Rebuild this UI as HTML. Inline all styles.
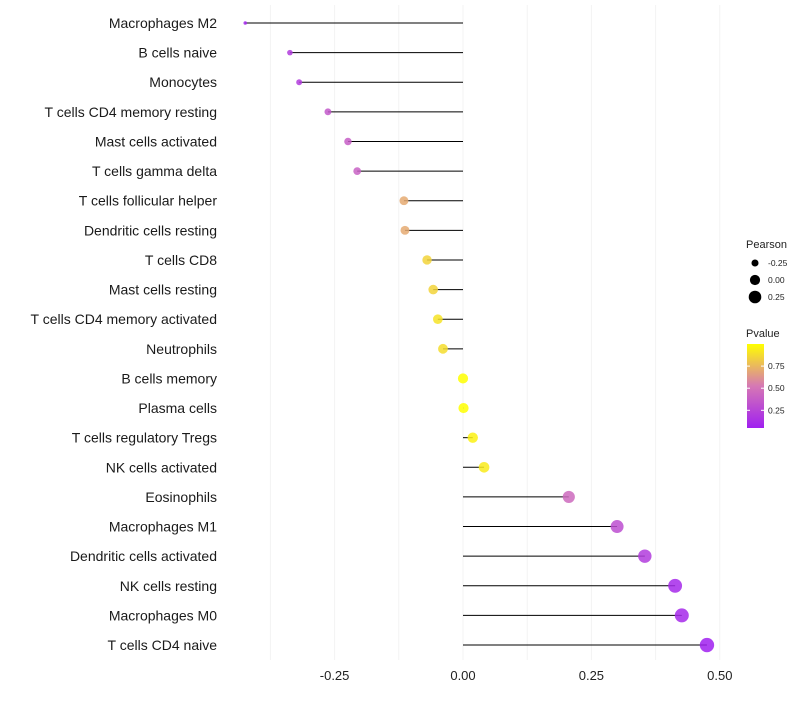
<!DOCTYPE html>
<html><head><meta charset="utf-8"><style>
body{margin:0;background:#fff;}
svg{font-family:"Liberation Sans",sans-serif;}
</style></head><body>
<svg id="c" width="800" height="700"></svg>
<script>
const cells=["Macrophages M2","B cells naive","Monocytes","T cells CD4 memory resting","Mast cells activated","T cells gamma delta","T cells follicular helper","Dendritic cells resting","T cells CD8","Mast cells resting","T cells CD4 memory activated","Neutrophils","B cells memory","Plasma cells","T cells regulatory  Tregs ","NK cells activated","Eosinophils","Macrophages M1","Dendritic cells activated","NK cells resting","Macrophages M0","T cells CD4 naive"];
const pearson=[-0.424,-0.337,-0.319,-0.263,-0.224,-0.206,-0.115,-0.113,-0.070,-0.058,-0.049,-0.039,0.0,0.001,0.019,0.041,0.206,0.300,0.354,0.413,0.426,0.475];
const pvalue=[0.08,0.2,0.2,0.35,0.38,0.4,0.7,0.7,0.85,0.85,0.9,0.88,1.0,1.0,0.95,0.93,0.45,0.3,0.2,0.1,0.1,0.05];
const xTicks=[-0.25,0,0.25,0.5];
const xTickLabels=["-0.25","0.00","0.25","0.50"];
const sizeLegend=[-0.25,0,0.25];
const sizeLegendLabels=["-0.25","0.00","0.25"];
const colorLegend=[0.25,0.5,0.75];
const colorLegendLabels=["0.25","0.50","0.75"];

const NS="http://www.w3.org/2000/svg";
const svg=document.getElementById('c');
function mk(t,a,p){const e=document.createElementNS(NS,t);for(const k in a)e.setAttribute(k,a[k]);(p||svg).appendChild(e);return e;}
const x=v=>463+v*513.6;
const y=i=>23+i*29.62;
const r=v=>Math.sqrt(Math.max(1,26+54*v));
function lerp(a,b,t){return a.map((c,i)=>Math.round(c+(b[i]-c)*t));}
function col(p){const t=Math.max(0,Math.min(1,(p-0.05)/0.95));
 const s=[[160,32,240],[214,120,180],[255,255,0]];
 const c=t<0.5?lerp(s[0],s[1],t*2):lerp(s[1],s[2],(t-0.5)*2);return `rgb(${c})`;}
for(let v=-0.375;v<=0.5001;v+=0.125){const g=mk('line',{x1:x(v),x2:x(v),y1:5,y2:660,stroke:'#f3f3f3','stroke-width':1});
}
xTicks.forEach((v,i)=>{const t=mk('text',{x:x(v),y:680,'text-anchor':'middle','font-size':13,fill:'#222'});t.textContent=xTickLabels[i];
});
cells.forEach((n,i)=>{
 const t=mk('text',{x:217,y:y(i)+5,'text-anchor':'end','font-size':14,fill:'#1a1a1a'});t.textContent=n;
 
 const l=mk('line',{x1:x(0),x2:x(pearson[i]),y1:y(i),y2:y(i),stroke:'#000','stroke-width':1});
 
 const c=mk('circle',{cx:x(pearson[i]),cy:y(i),r:r(pearson[i]),fill:col(pvalue[i]),'fill-opacity':0.85});
 
});
let lt=mk('text',{x:746,y:248,'font-size':11,fill:'#222'});lt.textContent='Pearson';

sizeLegend.forEach((v,i)=>{const cy=263+i*17;
 const c=mk('circle',{cx:755,cy:cy,r:r(v),fill:'#000'});
 const t=mk('text',{x:768,y:cy+3,'font-size':8.5,fill:'#222'});t.textContent=sizeLegendLabels[i];
 });
lt=mk('text',{x:746,y:337,'font-size':11,fill:'#222'});lt.textContent='Pvalue';

const defs=mk('defs',{});const gr=mk('linearGradient',{id:'g',x1:0,y1:1,x2:0,y2:0},defs);
[0,0.25,0.5,0.75,1].forEach(o=>mk('stop',{offset:o,'stop-color':col(0.05+o*0.95)},gr));
const bar=mk('rect',{x:747,y:344,width:17,height:84,fill:'url(#g)'});

colorLegend.forEach((v,i)=>{const cy=428-(v-0.05)/0.95*84;
 mk('line',{x1:747,x2:750,y1:cy,y2:cy,stroke:'#fff'});mk('line',{x1:761,x2:764,y1:cy,y2:cy,stroke:'#fff'});
 const t=mk('text',{x:768,y:cy+3,'font-size':8.5,fill:'#222'});t.textContent=colorLegendLabels[i];
 });
</script>
</body></html>
